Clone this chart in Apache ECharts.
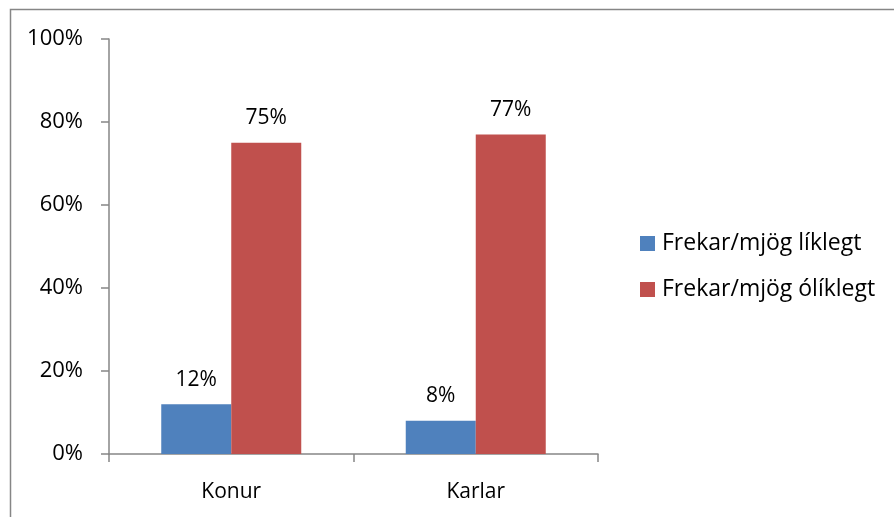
<!DOCTYPE html>
<html>
<head>
<meta charset="utf-8">
<script src="https://cdn.jsdelivr.net/npm/echarts@6/dist/echarts.min.js"></script>
<style>
  html, body { margin: 0; padding: 0; background: #fff; }
  #chart1 { width: 894px; height: 517px; }
</style>
</head>
<body>
<div id="chart1"></div>
<script>
var categories = ['Konur', 'Karlar'];
var seriesNames = ['Frekar/mjög líklegt', 'Frekar/mjög ólíklegt'];
var likely = [12, 8];
var unlikely = [75, 77];
var yTicks = [0, 20, 40, 60, 80, 100];

var chartDom = document.getElementById('chart1');
var myChart = echarts.init(chartDom);
var option;

var font = '"Open Sans", sans-serif';

option = {
  animation: false,
  textStyle: { fontFamily: font },
  graphic: [
    {
      type: 'rect',
      left: 8, top: 7,
      shape: { width: 1000, height: 600 },
      style: { fill: 'none', stroke: '#868686', lineWidth: 1.5 },
      silent: true
    }
  ],
  grid: {
    left: 109,
    top: 39,
    width: 489,
    height: 415
  },
  legend: {
    orient: 'vertical',
    left: 635,
    top: 227,
    itemWidth: 15,
    itemHeight: 15,
    itemGap: 23,
    icon: 'rect',
    textStyle: { fontSize: 23, color: '#000', fontFamily: font, padding: [0, 0, 0, 2] },
    data: seriesNames
  },
  xAxis: {
    type: 'category',
    data: categories,
    axisLine: { lineStyle: { color: '#868686', width: 1.5 } },
    axisTick: { show: true, length: 8, lineStyle: { color: '#868686', width: 1.5 } },
    axisLabel: { fontSize: 21, color: '#000', margin: 28, fontFamily: font }
  },
  yAxis: {
    type: 'value',
    min: yTicks[0],
    max: yTicks[yTicks.length - 1],
    interval: 20,
    axisLine: { show: true, lineStyle: { color: '#868686', width: 1.5 } },
    axisTick: { show: true, length: 8, lineStyle: { color: '#868686', width: 1.5 } },
    splitLine: { show: false },
    axisLabel: {
      fontSize: 22, color: '#000', margin: 26, fontFamily: font,
      formatter: '{value}%'
    }
  },
  series: [
    {
      name: seriesNames[0],
      type: 'bar',
      data: likely,
      barWidth: 70,
      barGap: '0%',
      itemStyle: { color: '#4F81BD' },
      label: {
        show: true, position: 'top', distance: 14,
        fontSize: 21, color: '#000', fontFamily: font,
        formatter: '{c}%'
      }
    },
    {
      name: seriesNames[1],
      type: 'bar',
      data: unlikely,
      barWidth: 70,
      barGap: '0%',
      itemStyle: { color: '#C0504D' },
      label: {
        show: true, position: 'top', distance: 14,
        fontSize: 21, color: '#000', fontFamily: font,
        formatter: '{c}%'
      }
    }
  ]
};

option && myChart.setOption(option);
</script>
</body>
</html>
